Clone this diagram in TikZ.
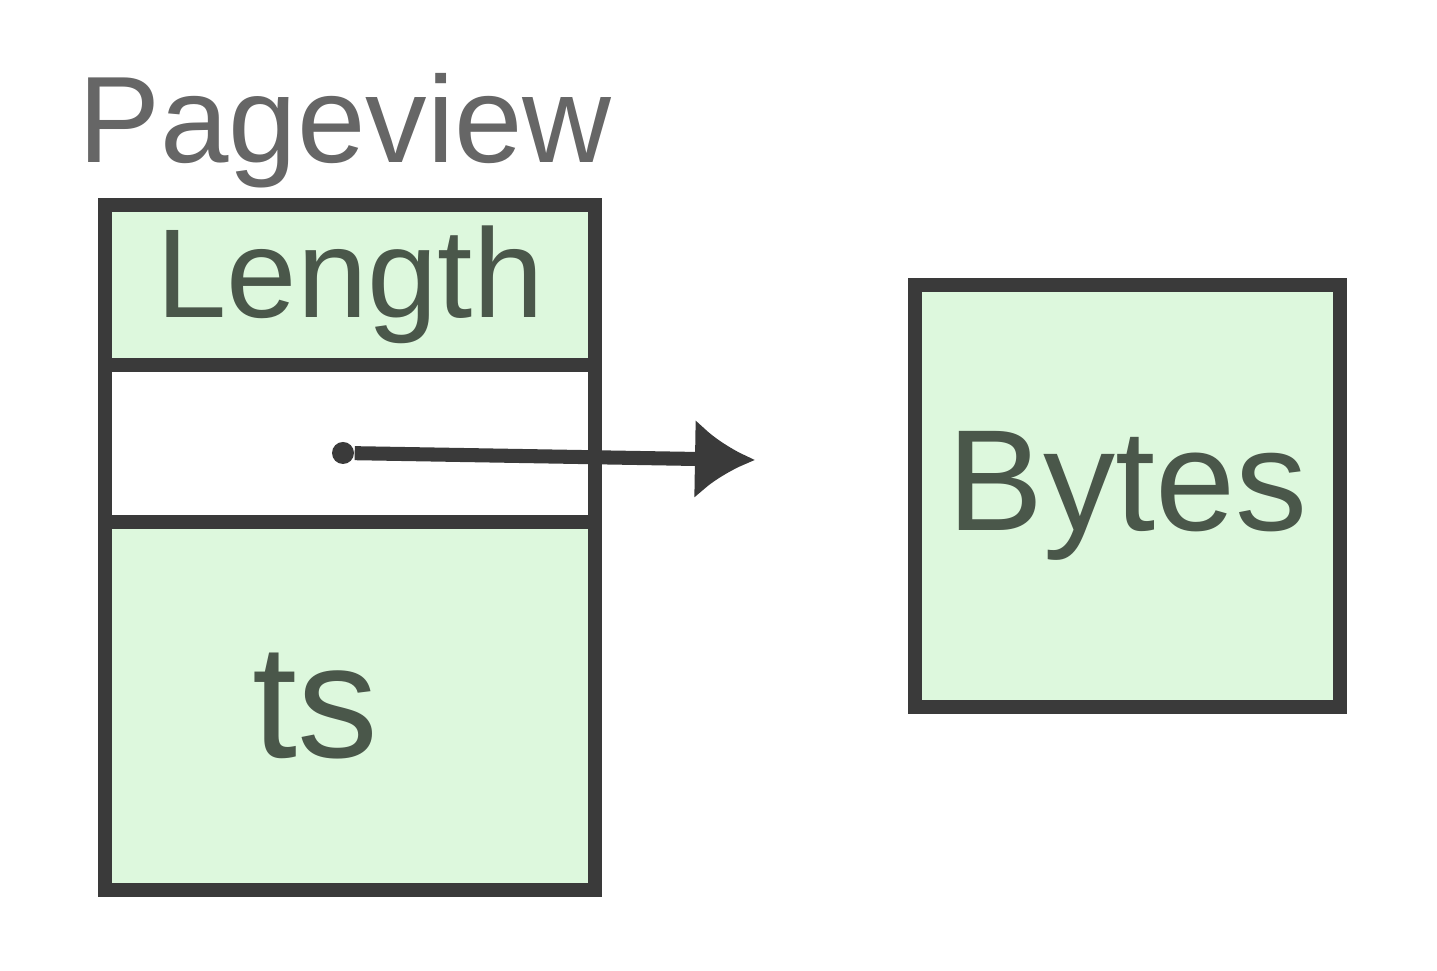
\documentclass[tikz,border=0pt]{standalone}
\usepackage{fontspec}
\setmainfont{Liberation Sans}
\usepackage{tikz}
\usetikzlibrary{arrows,arrows.meta}
\definecolor{sketch}{HTML}{3A3A3A}
\definecolor{paint}{HTML}{DDF8DD}
\definecolor{ink}{HTML}{4A574A}
\begin{document}
\begin{tikzpicture}[
  field/.style={draw=sketch, line width=4pt, minimum width=4.9cm, inner sep=0pt, text=ink, font=\fontsize{36}{40}\selectfont},
  store/.style={draw=sketch, line width=4pt, fill=paint, minimum width=4.25cm, minimum height=4.22cm, inner sep=0pt, text=ink, font=\fontsize{41}{45}\selectfont}]
	\useasboundingbox (0,0) rectangle (14.37,9.71);
\node[text=black!60, font=\fontsize{35}{40}\selectfont] (title) at (3.45,8.4) {Pageview};
\node[field, fill=paint, minimum height=1.6cm] (length) at (3.5,6.86) {Length};
\node[field, minimum height=1.57cm] (ptr) at (3.5,5.275) {};
\node[field, fill=paint, minimum height=3.68cm, font=\fontsize{46}{50}\selectfont] (ts) at (3.5,2.65) {ts\hspace*{0.7cm}};
\node[store] (bytes) at (11.275,4.75) {Bytes};
\node[circle, fill=sketch, inner sep=0pt, minimum size=0.22cm] (dot) at (3.43,5.18) {};
\coordinate (tip) at (7.55,5.11);
\draw [->,>={Latex[length=6mm,width=8mm]},line width=4pt,draw=sketch](dot)--(tip);
	\end{tikzpicture}
\end{document}
